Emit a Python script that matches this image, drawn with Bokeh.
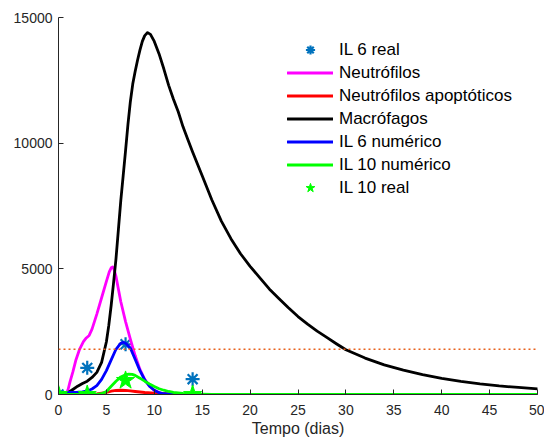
from bokeh.plotting import figure
from bokeh.models import Range1d, FixedTicker, Legend, LegendItem, Span
from bokeh.embed import file_html
from bokeh.resources import INLINE

# ---------------- data ----------------
x_ticks = [0, 5, 10, 15, 20, 25, 30, 35, 40, 45, 50]
y_ticks = [0, 5000, 10000, 15000]
threshold = 1800

il6_real_t = [0, 3, 7, 14]
il6_real_v = [0, 1060, 2000, 610]

il10_real_t = [0, 3, 7, 14]
il10_real_v = [0, 0, 560, 0]

neut_t = [0, 0.5, 0.8, 1.0, 1.2, 1.5, 1.8, 2.2, 2.6, 2.9, 3.2, 3.5, 4.0, 4.5, 5.0, 5.3,
          5.5, 5.65, 5.8, 6.0, 6.25, 6.5, 7.0, 7.5, 8.0, 8.5, 9.0, 9.5, 10.0, 10.5, 11.0,
          11.5, 12.0, 20, 30, 40, 50]
neut_v = [0, 0, 0, 200, 500, 900, 1350, 1800, 2100, 2250, 2350, 2600, 3200, 3850, 4500, 4880,
          5040, 5070, 4980, 4700, 4200, 3700, 2900, 2200, 1550, 1000, 600, 330, 170, 80, 30,
          10, 0, 0, 0, 0, 0]

apop_t = [0, 3, 4, 5, 5.5, 6, 6.5, 7, 7.5, 8, 9, 10, 11, 12, 14, 16, 30, 50]
apop_v = [0, 0, 20, 80, 130, 160, 170, 160, 140, 120, 80, 50, 30, 15, 5, 0, 0, 0]

macro_t = [0, 0.5, 1, 1.5, 2, 2.5, 3, 3.5, 4, 4.5, 5, 5.25, 5.5, 5.75, 6, 6.25, 6.5,
           6.75, 7, 7.25, 7.5, 7.75, 8, 8.25, 8.5, 8.75, 9, 9.3, 9.6, 10, 10.5, 11, 11.5,
           12, 12.5, 13, 13.5, 14, 15, 16, 17, 18, 19, 20, 21, 22, 23, 24, 25, 26, 27,
           28, 29, 30, 32, 34, 36, 38, 40, 42, 44, 46, 48, 50]
macro_v = [0, 0, 70, 200, 330, 440, 530, 680, 880, 1280, 2100, 2750, 3550, 4450, 5400,
           6550, 7700, 8700, 9700, 10750, 11650, 12350, 12850, 13300, 13700, 14050, 14280,
           14400, 14330, 14050, 13550, 12950, 12300, 11750, 11250, 10650, 10150, 9650,
           8700, 7750, 6900, 6200, 5600, 5100, 4650, 4200, 3820, 3450, 3100, 2800, 2520,
           2270, 2020, 1780, 1450, 1180, 970, 790, 640, 520, 420, 340, 280, 225]

il6_t = [0, 0.5, 1, 2, 2.5, 3, 3.5, 4, 4.5, 5, 5.5, 6, 6.5, 6.75, 7, 7.5, 8, 8.5, 9,
         9.5, 10, 10.5, 11, 12, 14, 20, 30, 40, 50]
il6_v = [0, 60, 80, 90, 100, 140, 220, 350, 600, 950, 1380, 1800, 2040, 2080, 2040,
         1850, 1400, 950, 580, 330, 170, 70, 30, 10, 0, 0, 0, 0, 0]

il10_t = [0, 4, 4.5, 5, 5.5, 6, 6.5, 7, 7.35, 7.7, 8, 8.5, 9, 9.5, 10, 10.5, 11, 11.5,
          12, 13, 14, 15, 16, 20, 30, 40, 50]
il10_v = [0, 0, 30, 120, 330, 530, 700, 790, 810, 800, 760, 650, 530, 420, 320, 230,
          170, 120, 80, 40, 20, 10, 0, 0, 0, 0, 0]

labels = ["IL 6 real", "Neutrófilos", "Neutrófilos apoptóticos", "Macrófagos",
          "IL 6 numérico", "IL 10 numérico", "IL 10 real"]

# ---------------- figure ----------------
FONT = "Liberation Sans"
TXT = "#262626"

p = figure(width=544, height=441, output_backend="svg", toolbar_location=None,
           x_range=Range1d(0, 50), y_range=Range1d(0, 15000),
           min_border_left=58, min_border_right=7, min_border_top=17,
           min_border_bottom=47)
p.outline_line_color = None
p.xgrid.visible = False
p.ygrid.visible = False
p.background_fill_color = "white"
p.border_fill_color = "white"

for ax in (p.xaxis[0], p.yaxis[0]):
    ax.axis_line_color = TXT
    ax.axis_line_width = 1
    ax.major_tick_line_color = TXT
    ax.major_tick_in = 5
    ax.major_tick_out = 0
    ax.minor_tick_line_color = None
    ax.major_label_text_font = FONT
    ax.major_label_text_font_size = "14px"
    ax.major_label_text_color = TXT

p.xaxis.ticker = FixedTicker(ticks=x_ticks)
p.yaxis.ticker = FixedTicker(ticks=y_ticks)
p.xaxis.major_label_standoff = 10
p.yaxis.major_label_standoff = 6
p.xaxis.axis_label = "Tempo (dias)"
p.xaxis.axis_label_text_font = FONT
p.xaxis.axis_label_text_font_size = "16px"
p.xaxis.axis_label_text_font_style = "normal"
p.xaxis.axis_label_text_color = TXT
p.xaxis.axis_label_standoff = 2

p.add_layout(Span(location=threshold, dimension="width", line_color="#E8601C",
                  line_dash="2 3", line_width=1.6))

LW = 2.8
common = dict(line_width=LW, line_join="round", line_cap="round")
r_il6r = p.scatter(il6_real_t, il6_real_v, marker="asterisk", size=14,
                   line_color="#0072BD", line_width=2.2)
r_neut = p.line(neut_t, neut_v, line_color="#FF00FF", **common)
r_apop = p.line(apop_t, apop_v, line_color="#FF0000", **common)
r_macro = p.line(macro_t, macro_v, line_color="#000000", **common)
r_il6 = p.line(il6_t, il6_v, line_color="#0000FF", **common)
r_il10 = p.line(il10_t, il10_v, line_color="#00FF00", **common)
r_il10r = p.scatter(il10_real_t, il10_real_v, marker="star", size=19,
                    fill_color="#00FF00", line_color="#00FF00", line_width=1)

renderers = [r_il6r, r_neut, r_apop, r_macro, r_il6, r_il10, r_il10r]
legend = Legend(items=[LegendItem(label=l, renderers=[r]) for l, r in zip(labels, renderers)],
                location=(229, 195), margin=0, padding=0, spacing=0,
                glyph_width=46, glyph_height=23, label_height=23, label_standoff=6,
                label_text_font=FONT, label_text_font_size="17px",
                label_text_color="#000000",
                border_line_color=None, background_fill_alpha=0)
p.add_layout(legend)

open("out.html", "w").write(file_html(p, INLINE))
